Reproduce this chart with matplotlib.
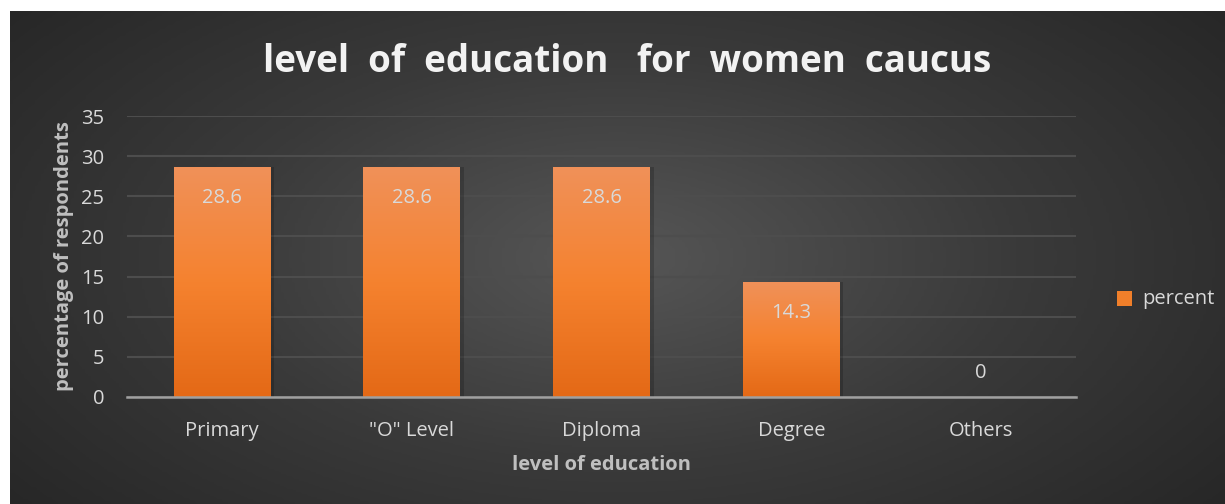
import numpy as np
import matplotlib.pyplot as plt
from matplotlib.colors import LinearSegmentedColormap

# data
categories = ['Primary', '"O" Level', 'Diploma', 'Degree', 'Others']
percent = [28.6, 28.6, 28.6, 14.3, 0]
yticks = [0, 5, 10, 15, 20, 25, 30, 35]

TXT = '#D9D9D9'
FS = 14.5
plt.rcParams['font.family'] = ['Open Sans', 'DejaVu Sans']

fig = plt.figure(figsize=(12.25, 5.04), dpi=100)
fig.patch.set_facecolor('white')

# background panel with radial gradient
bg = fig.add_axes([10/1225, 0, 1 - 10/1225, 1 - 11/504])
bg.set_axis_off()
gx, gy = np.meshgrid(np.linspace(-1, 1, 400), np.linspace(-1, 1, 200))
r = np.sqrt((gx * 0.95) ** 2 + (gy * 0.75) ** 2)
bgcm = LinearSegmentedColormap.from_list('bg', ['#565656', '#3a3a3a', '#262626'])
bg.imshow(r, cmap=bgcm, vmin=0, vmax=1.25, aspect='auto', extent=[0, 1, 0, 1])
bg.set_xlim(0, 1)
bg.set_ylim(0, 1)

ax = fig.add_axes([127/1225, 1 - 397/504, (1076 - 127)/1225, (397 - 116)/504])
ax.patch.set_alpha(0)
x = np.arange(len(categories))
w = 0.51

barcm = LinearSegmentedColormap.from_list('bar', ['#E46916', '#F5822F', '#F09159'])
grad = np.linspace(0, 1, 256).reshape(-1, 1)
bars = ax.bar(x, percent, width=w, color='#F07F2A', zorder=2, label='percent')
for b, v in zip(bars, percent):
    if v <= 0:
        continue
    # soft shadow
    ax.bar(b.get_x() + b.get_width() / 2 + 0.02, v, width=w, color='black', alpha=0.18, zorder=1)
    im = ax.imshow(grad, cmap=barcm, aspect='auto', origin='lower',
                   extent=[b.get_x(), b.get_x() + b.get_width(), 0, v], zorder=3)
    im.set_clip_path(b)

ax.set_xlim(-0.5, len(categories) - 0.5)
ax.set_ylim(0, 35)
ax.set_yticks(yticks)
ax.set_xticks(x)
ax.set_xticklabels(categories)
ax.yaxis.grid(True, color='#4d4d4d', linewidth=1.5, zorder=0)
ax.set_axisbelow(True)
for s in ['top', 'right', 'left']:
    ax.spines[s].set_visible(False)
ax.spines['bottom'].set_color('#A0A0A0')
ax.spines['bottom'].set_linewidth(1.8)
ax.spines['bottom'].set_zorder(4)
ax.tick_params(axis='both', length=0, colors=TXT, labelsize=FS)
ax.tick_params(axis='y', pad=16.5)
ax.tick_params(axis='x', pad=17)

# data labels
for xi, v in zip(x, percent):
    if v > 0:
        ax.annotate('{:g}'.format(v), (xi, v), xytext=(0, -31), textcoords='offset pixels',
                    ha='center', va='center', color=TXT, fontsize=FS, zorder=5)
    else:
        ax.annotate('{:g}'.format(v), (xi, v), xytext=(0, 24), textcoords='offset pixels',
                    ha='center', va='center', color=TXT, fontsize=FS, zorder=5)

ax.set_ylabel('percentage of respondents', color='#BFBFBF', fontsize=FS, fontweight='bold', labelpad=5)
ax.set_xlabel('level of education', color='#BFBFBF', fontsize=FS, fontweight='bold', labelpad=10)

fig.text(627/1225, 1 - 62/504, 'level  of  education   for  women  caucus', ha='center', va='center',
         color='#F2F2F2', fontsize=26.5, fontweight='bold')

# legend
fig.patches.append(plt.Rectangle((1117/1225, 1 - 306/504), 15/1225, 15/504, transform=fig.transFigure,
                                 facecolor='#F07F2A', edgecolor='none', figure=fig))
fig.text(1142/1225, 1 - 299/504, 'percent', ha='left', va='center', color=TXT, fontsize=FS)

fig.savefig('out.png', dpi=100, facecolor=fig.get_facecolor())
